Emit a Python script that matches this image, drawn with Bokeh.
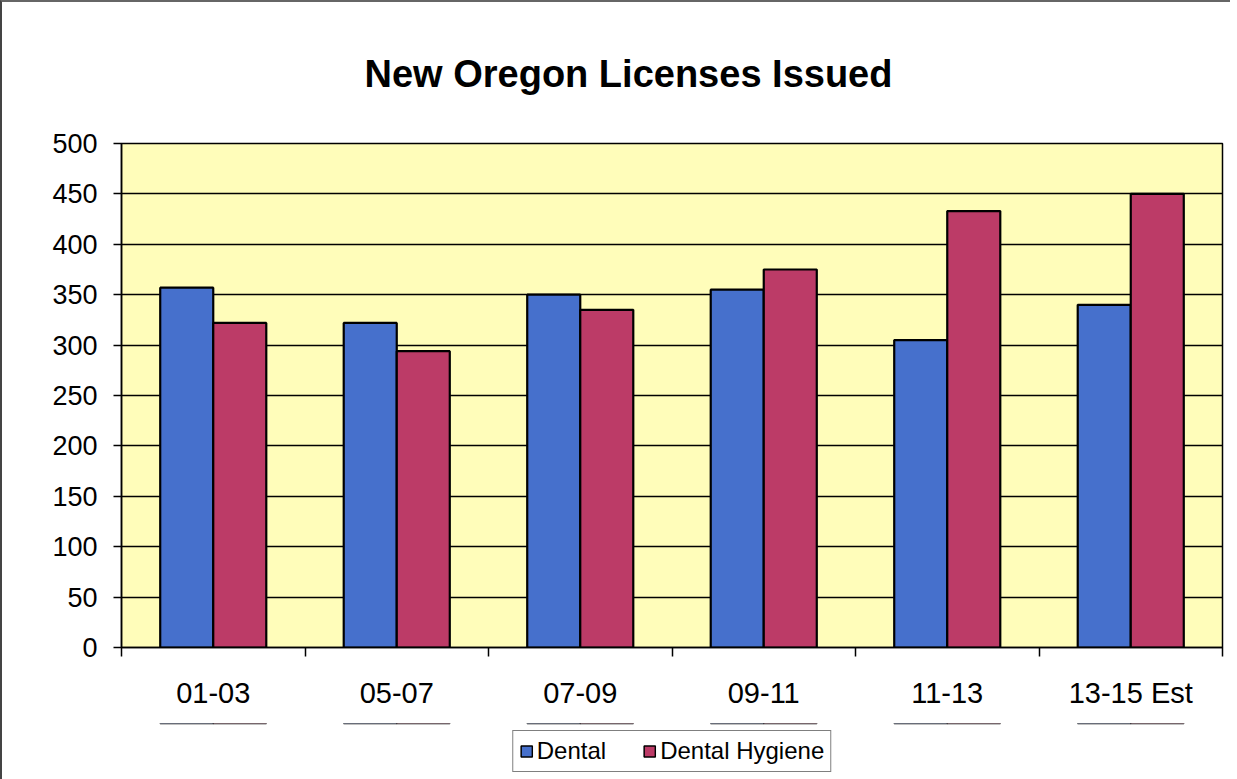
import numpy as np
from bokeh.plotting import figure
from bokeh.layouts import column
from bokeh.models import (ColumnDataSource, Range1d, FixedTicker, Legend, LegendItem)
from bokeh.embed import file_html
from bokeh.resources import INLINE

# ---- data ----
categories = ["01-03", "05-07", "07-09", "09-11", "11-13", "13-15 Est"]
dental = [357, 322, 350, 355, 305, 340]
dental_hygiene = [322, 294, 335, 375, 433, 450]
y_ticks = [0, 50, 100, 150, 200, 250, 300, 350, 400, 450, 500]
series_names = ["Dental", "Dental Hygiene"]

FONT = "Liberation Sans"
BLUE = "#4670CC"
RED = "#BC3B67"

n = len(categories)
centers = np.arange(n) + 0.5
bar_w = 0.289

src = ColumnDataSource(dict(
    xd=centers - bar_w / 2,
    xh=centers + bar_w / 2,
    dental=dental,
    hyg=dental_hygiene,
))

p = figure(frame_width=1101, frame_height=504,
           output_backend="svg", toolbar_location=None,
           x_range=Range1d(0, n), y_range=Range1d(0, 500),
           min_border_left=119, min_border_right=8, min_border_top=138,
           min_border_bottom=76,
           background_fill_color="#FFFDBA", border_fill_color="white")

p.title.text = "New Oregon Licenses Issued"
p.title.align = "left"
p.title.offset = 243
p.title.text_font = FONT
p.title.text_font_size = "38px"
p.title.text_font_style = "bold"
p.title.text_color = "black"
p.title.standoff = 97

p.vbar(x="xd", top="dental", width=bar_w, source=src, fill_color=BLUE,
       line_color="black", line_width=2.2)
p.vbar(x="xh", top="hyg", width=bar_w, source=src, fill_color=RED,
       line_color="black", line_width=2.2)

p.outline_line_color = "black"
p.outline_line_width = 1.5

# y axis
p.yaxis.ticker = FixedTicker(ticks=y_ticks)
p.yaxis.major_label_text_font = FONT
p.yaxis.major_label_text_font_size = "27px"
p.yaxis.major_label_text_color = "black"
p.yaxis.major_tick_out = 8
p.yaxis.major_tick_in = 0
p.yaxis.minor_tick_line_color = None
p.yaxis.axis_line_color = "black"
p.yaxis.axis_line_width = 1.5
p.yaxis.major_tick_line_color = "black"
p.yaxis.major_tick_line_width = 1.5
p.yaxis.major_label_standoff = 16

# x axis: labels at centers, ticks at category boundaries
p.xaxis.ticker = FixedTicker(ticks=list(centers), minor_ticks=list(range(n + 1)))
p.xaxis.major_label_overrides = {float(c): lab for c, lab in zip(centers, categories)}
p.xaxis.major_label_text_font = FONT
p.xaxis.major_label_text_font_size = "29px"
p.xaxis.major_label_text_color = "black"
p.xaxis.major_tick_line_color = None
p.xaxis.major_tick_out = 0
p.xaxis.major_tick_in = 0
p.xaxis.minor_tick_out = 9
p.xaxis.minor_tick_in = 0
p.xaxis.minor_tick_line_color = "black"
p.xaxis.minor_tick_line_width = 1.5
p.xaxis.axis_line_color = "black"
p.xaxis.axis_line_width = 1.5
p.xaxis.major_label_standoff = 20

p.xgrid.grid_line_color = None
p.ygrid.ticker = FixedTicker(ticks=y_ticks)
p.ygrid.grid_line_color = "black"
p.ygrid.grid_line_width = 1.5

# ---- legend strip (separate figure under the chart) ----
# its y range lies below zero, so the key renderers draw no visible bars
lf = figure(frame_width=1101, frame_height=56, output_backend="svg",
            toolbar_location=None, x_axis_location=None, y_axis_location=None,
            x_range=Range1d(0, n), y_range=Range1d(-2, -1),
            min_border_left=119, min_border_right=8, min_border_top=0,
            min_border_bottom=0, background_fill_color="white",
            border_fill_color="white")
lf.outline_line_color = None
lf.xgrid.grid_line_color = None
lf.ygrid.grid_line_color = None
k1 = lf.vbar(x="xd", top="dental", width=bar_w, source=src, fill_color=BLUE,
             line_color="black", line_width=1.5)
k2 = lf.vbar(x="xh", top="hyg", width=bar_w, source=src, fill_color=RED,
             line_color="black", line_width=1.5)

legend = Legend(items=[LegendItem(label=series_names[0], renderers=[k1]),
                       LegendItem(label=series_names[1], renderers=[k2])],
                orientation="horizontal", location="center",
                label_text_font=FONT, label_text_font_size="24px",
                label_text_color="black", glyph_width=14, glyph_height=14,
                label_standoff=4, spacing=36, padding=6, margin=0,
                border_line_color="black", border_line_width=1.5,
                background_fill_color="white", background_fill_alpha=1)
lf.add_layout(legend, "center")

layout = column(p, lf, spacing=0,
                styles={"border-left": "2px solid #444", "border-top": "2px solid #666",
                        "border-bottom": "3px solid #333"})

open("out.html", "w").write(file_html(layout, INLINE))
